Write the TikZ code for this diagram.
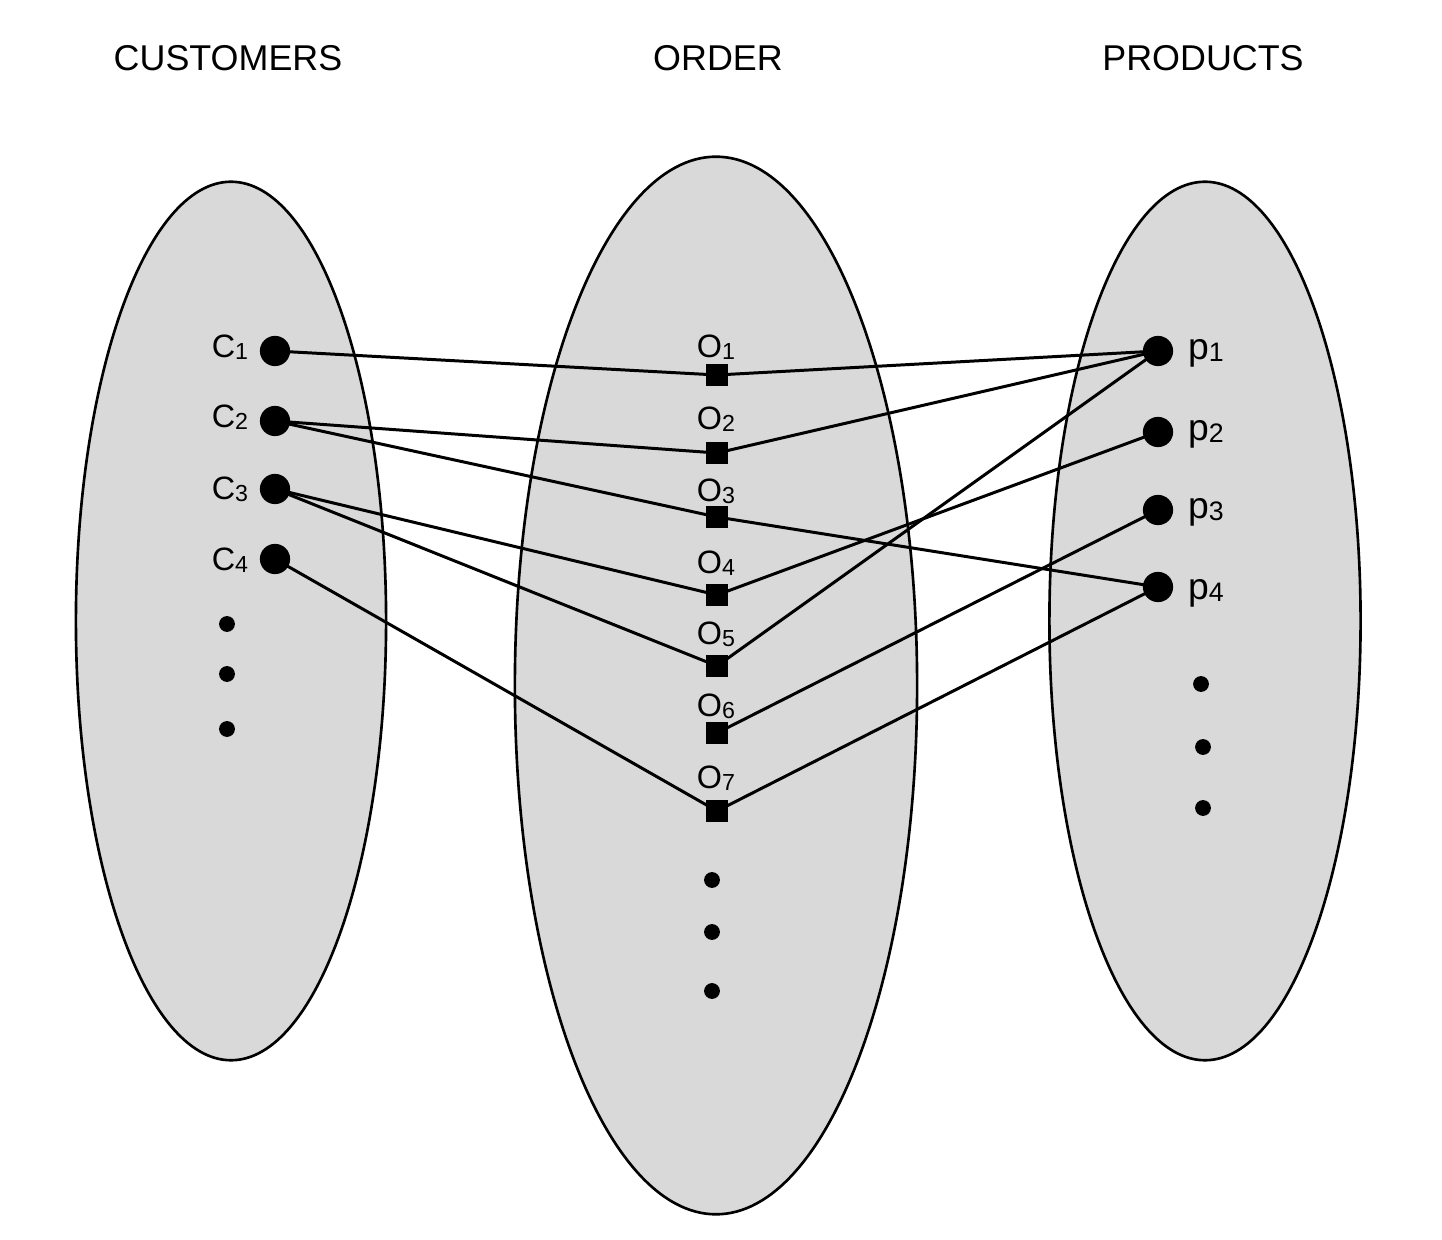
\documentclass[tikz,border=0pt]{standalone}
\usepackage{fontspec}
\setmainfont{Liberation Sans}
\newcommand{\subidx}[1]{{\fontsize{6.6pt}{6.6pt}\selectfont\raisebox{-0.6pt}{#1}}}
\newcommand{\psubidx}[1]{{\fontsize{7.6pt}{7.6pt}\selectfont\raisebox{-0.6pt}{#1}}}
\pgfdeclarelayer{sets}
\pgfdeclarelayer{links}
\pgfsetlayers{sets,links,main}
\begin{document}
\begin{tikzpicture}[x=0.01cm,y=-0.01cm,
  setshape/.style={draw=black,line width=0.75pt,fill={rgb,255:red,217;green,217;blue,217}},
  title/.style={font=\fontsize{10.2pt}{12pt}\selectfont},
  lbl/.style={font=\fontsize{9.2pt}{11pt}\selectfont,inner sep=0pt},
  plbl/.style={font=\fontsize{10.6pt}{12pt}\selectfont,inner sep=0pt},
  bigdot/.style={circle,fill=black,inner sep=0pt,minimum size=8.6pt},
  smalldot/.style={circle,fill=black,inner sep=0pt,minimum size=4.5pt},
  sq/.style={rectangle,fill=black,inner sep=0pt,minimum size=6.1pt},
  link/.style={line width=0.85pt}]
\useasboundingbox (0,0) rectangle (1442,1240);

% headings
\node[title] (tc) at (228,58) {CUSTOMERS};
\node[title] (to) at (718,58) {ORDER};
\node[title] (tp) at (1203,58) {PRODUCTS};

% the three sets
\begin{pgfonlayer}{sets}
\draw[setshape] (231,621) ellipse [x radius=1.55cm, y radius=4.39cm];
\draw[setshape] (716,685.5) ellipse [x radius=2.01cm, y radius=5.285cm];
\draw[setshape] (1205,621) ellipse [x radius=1.555cm, y radius=4.39cm];
\end{pgfonlayer}

% customers
\node[bigdot] (c1) at (275,351) {};
\node[bigdot] (c2) at (275,421) {};
\node[bigdot] (c3) at (275,489) {};
\node[bigdot] (c4) at (275,559) {};
\node[lbl] (lc1) at (230,347) {C\subidx{1}};
\node[lbl] (lc2) at (230,417) {C\subidx{2}};
\node[lbl] (lc3) at (230,489) {C\subidx{3}};
\node[lbl] (lc4) at (230,560) {C\subidx{4}};
\node[smalldot] (cd1) at (227,624) {};
\node[smalldot] (cd2) at (227,674) {};
\node[smalldot] (cd3) at (227,729) {};

% orders
\node[sq] (o1) at (717,375) {};
\node[sq] (o2) at (717,453) {};
\node[sq] (o3) at (717,517) {};
\node[sq] (o4) at (717,595) {};
\node[sq] (o5) at (717,666) {};
\node[sq] (o6) at (717,733) {};
\node[sq] (o7) at (717,811) {};
\node[lbl] (lo1) at (716,347) {O\subidx{1}};
\node[lbl] (lo2) at (716,419) {O\subidx{2}};
\node[lbl] (lo3) at (716,491) {O\subidx{3}};
\node[lbl] (lo4) at (716,563) {O\subidx{4}};
\node[lbl] (lo5) at (716,634) {O\subidx{5}};
\node[lbl] (lo6) at (716,706) {O\subidx{6}};
\node[lbl] (lo7) at (716,778) {O\subidx{7}};
\node[smalldot] (od1) at (712,880) {};
\node[smalldot] (od2) at (712,932) {};
\node[smalldot] (od3) at (712,991) {};

% products
\node[bigdot] (p1) at (1158,351) {};
\node[bigdot] (p2) at (1158,432) {};
\node[bigdot] (p3) at (1158,510) {};
\node[bigdot] (p4) at (1158,587) {};
\node[plbl] (lp1) at (1206,353) {p\psubidx{1}};
\node[plbl] (lp2) at (1206,434) {p\psubidx{2}};
\node[plbl] (lp3) at (1206,512) {p\psubidx{3}};
\node[plbl] (lp4) at (1206,593) {p\psubidx{4}};
\node[smalldot] (pd1) at (1201,684) {};
\node[smalldot] (pd2) at (1203,747) {};
\node[smalldot] (pd3) at (1203,808) {};

% customer -- order -- product links, kept under the markers
\begin{pgfonlayer}{links}
\draw[link] (c1.center) -- (o1.center) -- (p1.center);
\draw[link] (c2.center) -- (o2.center) -- (p1.center);
\draw[link] (c2.center) -- (o3.center) -- (p4.center);
\draw[link] (c3.center) -- (o4.center) -- (p2.center);
\draw[link] (c3.center) -- (o5.center) -- (p1.center);
\draw[link] (o6.center) -- (p3.center);
\draw[link] (c4.center) -- (o7.center) -- (p4.center);
\end{pgfonlayer}
\end{tikzpicture}
\end{document}
